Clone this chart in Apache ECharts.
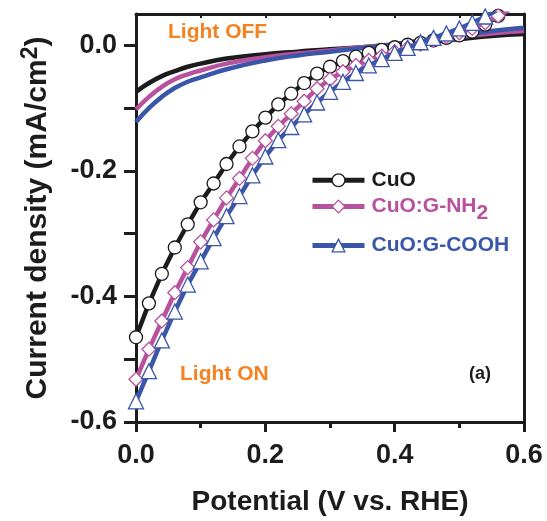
<!DOCTYPE html>
<html>
<head>
<meta charset="utf-8">
<script src="https://cdn.jsdelivr.net/npm/echarts@6/dist/echarts.min.js"></script>
<style>
html,body{margin:0;padding:0;background:#fff;}
#chart{width:547px;height:521px;}
</style>
</head>
<body>
<div id="chart"></div>
<script>
// ---- Data ----
const potentialOn = [0,0.02,0.04,0.06,0.08,0.10,0.12,0.14,0.16,0.18,0.20,0.22,0.24,0.26,0.28,0.30,0.32,0.34,0.36,0.38,0.40,0.42,0.44,0.46,0.48,0.50,0.52,0.54,0.56,0.58,0.60];
const cuoOn  = [-0.465,-0.411,-0.364,-0.322,-0.285,-0.250,-0.220,-0.189,-0.161,-0.137,-0.115,-0.094,-0.077,-0.060,-0.045,-0.034,-0.025,-0.018,-0.012,-0.007,-0.003,0.001,0.004,0.008,0.012,0.016,0.022,0.033,0.047,0.060,0.074];
const nh2On  = [-0.532,-0.484,-0.439,-0.394,-0.354,-0.313,-0.278,-0.243,-0.212,-0.180,-0.152,-0.129,-0.109,-0.089,-0.069,-0.054,-0.042,-0.032,-0.024,-0.017,-0.010,-0.004,0.002,0.008,0.014,0.020,0.027,0.036,0.047,0.058,0.070];
const coohOn = [-0.567,-0.519,-0.470,-0.424,-0.381,-0.344,-0.307,-0.272,-0.240,-0.207,-0.177,-0.151,-0.130,-0.110,-0.091,-0.074,-0.058,-0.044,-0.032,-0.022,-0.012,-0.004,0.005,0.012,0.019,0.027,0.036,0.046,0.057,0.069,0.081];

const potentialOff = [0,0.02,0.04,0.06,0.08,0.10,0.14,0.20,0.25,0.30,0.35,0.40,0.45,0.50,0.55,0.60];
const cuoOff  = [-0.074,-0.060,-0.049,-0.041,-0.034,-0.029,-0.021,-0.014,-0.010,-0.006,-0.003,0.001,0.005,0.010,0.015,0.018];
const nh2Off  = [-0.102,-0.082,-0.066,-0.054,-0.046,-0.040,-0.029,-0.019,-0.013,-0.008,-0.003,0.002,0.007,0.013,0.019,0.023];
const coohOff = [-0.122,-0.100,-0.082,-0.068,-0.058,-0.051,-0.038,-0.024,-0.016,-0.010,-0.004,0.002,0.009,0.016,0.023,0.028];

const seriesNames = ['CuO','CuO:G-NH2','CuO:G-COOH'];
const xTopTicks = [0.1,0.2,0.3,0.4,0.5];
const yTicks = [-0.6,-0.5,-0.4,-0.3,-0.2,-0.1,0];
const yLabels = [-0.6,-0.4,-0.2,0];

// ---- Styles ----
const BLACK = '#1c1c1c', PINK = '#b8519e', BLUE = '#3a56a8', ORANGE = '#f5821f';
const FONT = '"Liberation Sans", Arial, Helvetica, sans-serif';

function pairs(xs, ys){ return xs.map((x,i)=>[x, ys[i]]); }

function offSeries(name, ys, color){
  return {
    name: name, type:'line', data: pairs(potentialOff, ys), smooth: true,
    symbol:'none', lineStyle:{color: color, width: 4.5}, clip: true, z: 2
  };
}
function onSeries(name, ys, color, symbol, size, z){
  return {
    name: name, type:'line', data: pairs(potentialOn, ys),
    symbol: symbol, symbolSize: size, showSymbol: true,
    lineStyle:{color: color, width: 4.5},
    itemStyle:{color:'#fff', borderColor: color, borderWidth: 1.3},
    clip: true, z: z
  };
}

const chart = echarts.init(document.getElementById('chart'), null, {renderer:'canvas'});

function legendFor(name, color, top, formatter){
  return {
    data:[name], left: 305, top: top, orient:'vertical',
    itemWidth: 52, itemHeight: 16, itemGap: 0,
    selectedMode: false,
    formatter: formatter,
    lineStyle:{width: 5, color: color},
    itemStyle:{color:'#fff', borderColor: color, borderWidth: 1.3},
    textStyle:{
      color: color, fontSize: 21, fontWeight:'bold', fontFamily: FONT, padding:[0,0,0,2],
      rich:{
        a:{color: color, fontSize: 21, fontWeight:'bold', fontFamily: FONT},
        b:{color: color, fontSize: 21, fontWeight:'bold', fontFamily: FONT, padding:[14,0,0,0]}
      }
    }
  };
}

const option = {
  animation: false,
  backgroundColor: '#fff',
  textStyle:{fontFamily: FONT},
  grid:{left:136, right:23, top:14, bottom:97, containLabel:false},
  legend: [
    legendFor(seriesNames[0], BLACK, 164.7, '{a|CuO}'),
    legendFor(seriesNames[1], PINK, 191, '{a|CuO:G-NH}{b|2}'),
    legendFor(seriesNames[2], BLUE, 230, '{a|CuO:G-COOH}')
  ],
  xAxis: [
    {
      type:'value', min:0, max:0.6, interval:0.2, position:'bottom',
      axisLine:{onZero:false, lineStyle:{color:BLACK, width:3}},
      axisTick:{length:10, lineStyle:{color:BLACK, width:3}},
      minorTick:{show:true, splitNumber:2, length:6, lineStyle:{color:BLACK, width:3}},
      splitLine:{show:false}, minorSplitLine:{show:false},
      axisLabel:{fontSize:27, fontWeight:'bold', color:BLACK, margin:20, fontFamily: FONT,
        formatter: v => v.toFixed(1)},
      name:'Potential (V vs. RHE)', nameLocation:'middle', nameGap:66,
      nameTextStyle:{fontSize:28, fontWeight:'bold', color:BLACK, fontFamily: FONT}
    },
    {
      type:'value', min:0, max:0.6, position:'top',
      axisLine:{onZero:false, lineStyle:{color:BLACK, width:3}},
      axisTick:{inside:true, length:4, customValues: xTopTicks, lineStyle:{color:BLACK, width:2}},
      axisLabel:{show:false}, splitLine:{show:false}
    }
  ],
  yAxis: [
    {
      type:'value', min:-0.6, max:0.05, position:'left',
      axisLine:{onZero:false, lineStyle:{color:BLACK, width:3}},
      axisTick:{length:12, customValues: yTicks, lineStyle:{color:BLACK, width:3}},
      axisLabel:{customValues: yLabels, fontSize:27, fontWeight:'bold', color:BLACK, margin:19, fontFamily: FONT,
        formatter: v => (Math.abs(v) < 1e-9 ? 0 : v).toFixed(1)},
      splitLine:{show:false},
      name:'{a|Current density (mA/cm}{s|2}{a|)}', nameLocation:'middle', nameGap:80, nameRotate:90,
      nameTextStyle:{
        color:BLACK,
        rich:{
          a:{fontSize:30, fontWeight:'bold', color:BLACK, fontFamily: FONT},
          s:{fontSize:23, fontWeight:'bold', color:BLACK, fontFamily: FONT, padding:[0,0,14,0]}
        }
      }
    },
    {
      type:'value', min:-0.6, max:0.05, position:'right',
      axisLine:{onZero:false, lineStyle:{color:BLACK, width:3}},
      axisTick:{show:false}, axisLabel:{show:false}, splitLine:{show:false}
    }
  ],
  graphic: [
    {type:'text', left:168, top:22, z:100, style:{text:'Light OFF', fill:ORANGE, font:'bold 21px ' + FONT}},
    {type:'text', left:180, top:364, z:100, style:{text:'Light ON', fill:ORANGE, font:'bold 21px ' + FONT}},
    {type:'text', left:469, top:365, z:100, style:{text:'(a)', fill:BLACK, font:'bold 18px ' + FONT}}
  ],
  series: [
    offSeries('CuO (dark)', cuoOff, BLACK),
    offSeries('CuO:G-NH2 (dark)', nh2Off, PINK),
    offSeries('CuO:G-COOH (dark)', coohOff, BLUE),
    onSeries(seriesNames[0], cuoOn, BLACK, 'circle', 13, 3),
    onSeries(seriesNames[1], nh2On, PINK, 'diamond', 14, 4),
    onSeries(seriesNames[2], coohOn, BLUE, 'triangle', 15, 5)
  ]
};
chart.setOption(option);
</script>
</body>
</html>
